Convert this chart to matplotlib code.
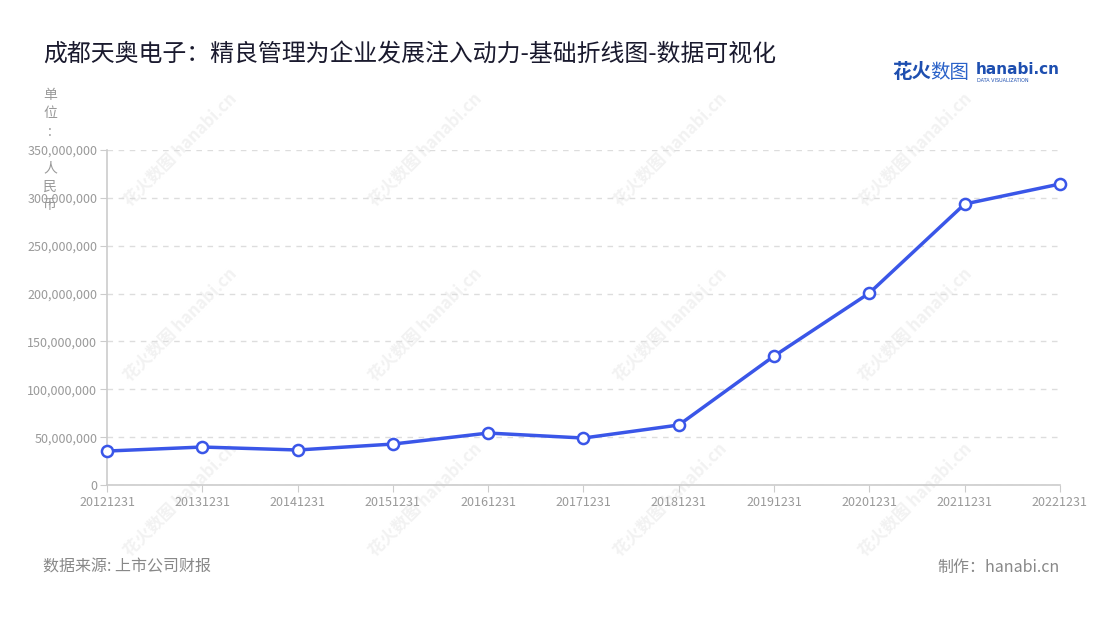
import matplotlib
matplotlib.use('Agg')
from matplotlib import pyplot as plt
from matplotlib.ticker import FuncFormatter

plt.rcParams['font.family'] = ['Noto Sans CJK SC', 'DejaVu Sans']

# data
dates = ['20121231', '20131231', '20141231', '20151231', '20161231', '20171231',
         '20181231', '20191231', '20201231', '20211231', '20221231']
revenue = [35.5e6, 39.7e6, 36.6e6, 42.8e6, 54.3e6, 49.1e6,
           62.7e6, 134.8e6, 200.6e6, 293.6e6, 314.5e6]
yticks = [0, 50e6, 100e6, 150e6, 200e6, 250e6, 300e6, 350e6]

fig = plt.figure(figsize=(11, 6.2), dpi=100)
ax = fig.add_axes([0.0973, 0.2177, 0.8663, 0.5403])

# faint watermarks (behind the axes)
for wx in [180, 425, 670, 915]:
    for wy in [150, 325, 500]:
        fig.text(wx / 1100, 1 - wy / 620, '花火数图 hanabi.cn', rotation=45, fontsize=12,
                 color='#f2f2f2', ha='center', va='center', zorder=-5, fontweight='bold')

x = list(range(len(dates)))
ax.plot(x, revenue, color='#3a56e8', linewidth=2.5, marker='o', markersize=8,
        markerfacecolor='white', markeredgecolor='#3a56e8', markeredgewidth=1.8,
        zorder=5, clip_on=False)

ax.set_xlim(0, len(dates) - 1)
ax.set_ylim(0, 350e6)
ax.set_xticks(x)
ax.set_xticklabels(dates)
ax.set_yticks(yticks)
ax.yaxis.set_major_formatter(FuncFormatter(lambda v, p: '{:,.0f}'.format(v)))
ax.tick_params(axis='both', colors='#cccccc', labelcolor='#999999', labelsize=9, length=5)
ax.tick_params(axis='x', pad=3)
ax.tick_params(axis='y', pad=2)
ax.grid(axis='y', linestyle=(0, (4, 4)), color='#dddddd', linewidth=1)
ax.set_axisbelow(True)
for s in ['top', 'right']:
    ax.spines[s].set_visible(False)
ax.spines['left'].set_color('#cccccc')
ax.spines['bottom'].set_color('#cccccc')
ax.spines['left'].set_linewidth(1.2)
ax.spines['bottom'].set_linewidth(1.2)
ax.patch.set_alpha(0)

fig.text(43 / 1100, 1 - 55 / 620, '成都天奥电子：精良管理为企业发展注入动力-基础折线图-数据可视化',
         fontsize=17.2, color='#1a1a2e', ha='left', va='center')
# unit label, stacked characters
fig.text(50 / 1100, 1 - 88 / 620, '单\n位\n:', fontsize=10, color='#999999',
         ha='center', va='top', linespacing=1.4)
fig.text(50 / 1100, 1 - 161 / 620, '人\n民\n币', fontsize=10, color='#999999',
         ha='center', va='top', linespacing=1.4)

# logo
fig.text(892 / 1100, 1 - 73 / 620, '花火', fontsize=14, color='#1e4fb0',
         fontweight='bold', ha='left', va='center')
fig.text(930 / 1100, 1 - 73 / 620, '数图', fontsize=14, color='#2a62c9',
         ha='left', va='center')
fig.text(976 / 1100, 1 - 70 / 620, 'hanabi.cn', fontsize=11, color='#1e4fb0',
         fontweight='bold', ha='left', va='center', family=['DejaVu Sans'])
fig.text(977 / 1100, 1 - 80 / 620, 'DATA VISUALIZATION', fontsize=3.5, color='#1e4fb0',
         ha='left', va='center', family=['DejaVu Sans'])

fig.text(43 / 1100, 1 - 567 / 620, '数据来源: 上市公司财报', fontsize=11.5, color='#888888',
         ha='left', va='center')
fig.text(1060 / 1100, 1 - 567 / 620, '制作：hanabi.cn', fontsize=11.5, color='#888888',
         ha='right', va='center')

fig.savefig('out.png', dpi=100)
